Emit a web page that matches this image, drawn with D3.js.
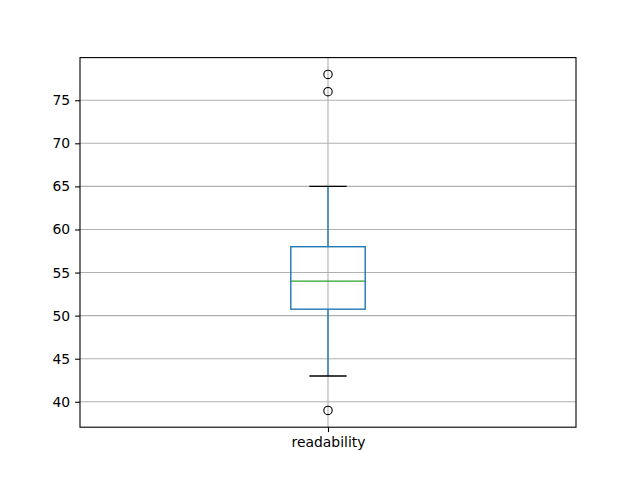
<!DOCTYPE html>
<html>
<head>
<meta charset="utf-8">
<script src="https://cdn.jsdelivr.net/npm/d3@7"></script>
<style>
  body { margin: 0; background: #fff; }
  text { font-family: "DejaVu Sans", sans-serif; }
</style>
</head>
<body>
<script>
// box statistics
var categories = ["readability"];
var q1Values = [50.75];
var medianValues = [54];
var q3Values = [58];
var whiskerLow = [43];
var whiskerHigh = [65];
var outlierValues = [[78, 76, 39]];
var yTicks = [40, 45, 50, 55, 60, 65, 70, 75];

var width = 640, height = 480;
var margin = {left: 80, right: 64, top: 57.6, bottom: 52.8};

var svg = d3.select("body").append("svg")
    .attr("width", width).attr("height", height);

var x = d3.scaleLinear().domain([0.5, 1.5]).range([margin.left, width - margin.right]);
var y = d3.scaleLinear().domain([37.05, 79.95]).range([height - margin.bottom, margin.top]);

var boxW = x(1.15) - x(1); // 0.15 data units
var capW = boxW / 2;

// grid lines
var grid = svg.append("g");
grid.selectAll("line.h").data(yTicks).enter().append("line")
    .attr("x1", x.range()[0]).attr("x2", x.range()[1])
    .attr("y1", d => y(d)).attr("y2", d => y(d))
    .attr("stroke", "#b0b0b0").attr("stroke-width", 1.1);
grid.selectAll("line.v").data(categories).enter().append("line")
    .attr("x1", (d, i) => x(i + 1)).attr("x2", (d, i) => x(i + 1))
    .attr("y1", y.range()[0]).attr("y2", y.range()[1])
    .attr("stroke", "#b0b0b0").attr("stroke-width", 1.1);

// boxes
var boxes = svg.append("g").selectAll("g").data(categories).enter().append("g");

boxes.append("line")
    .attr("x1", (d, i) => x(i + 1)).attr("x2", (d, i) => x(i + 1))
    .attr("y1", (d, i) => y(q1Values[i])).attr("y2", (d, i) => y(whiskerLow[i]))
    .attr("stroke", "#1f77b4").attr("stroke-width", 1.4);
boxes.append("line")
    .attr("x1", (d, i) => x(i + 1)).attr("x2", (d, i) => x(i + 1))
    .attr("y1", (d, i) => y(q3Values[i])).attr("y2", (d, i) => y(whiskerHigh[i]))
    .attr("stroke", "#1f77b4").attr("stroke-width", 1.4);

boxes.append("line")
    .attr("x1", (d, i) => x(i + 1) - capW / 2).attr("x2", (d, i) => x(i + 1) + capW / 2)
    .attr("y1", (d, i) => y(whiskerLow[i])).attr("y2", (d, i) => y(whiskerLow[i]))
    .attr("stroke", "#000").attr("stroke-width", 1.4);
boxes.append("line")
    .attr("x1", (d, i) => x(i + 1) - capW / 2).attr("x2", (d, i) => x(i + 1) + capW / 2)
    .attr("y1", (d, i) => y(whiskerHigh[i])).attr("y2", (d, i) => y(whiskerHigh[i]))
    .attr("stroke", "#000").attr("stroke-width", 1.4);

boxes.append("rect")
    .attr("x", (d, i) => x(i + 1) - boxW / 2)
    .attr("y", (d, i) => y(q3Values[i]))
    .attr("width", boxW)
    .attr("height", (d, i) => y(q1Values[i]) - y(q3Values[i]))
    .attr("fill", "none").attr("stroke", "#1f77b4").attr("stroke-width", 1.4);

boxes.append("line")
    .attr("x1", (d, i) => x(i + 1) - boxW / 2).attr("x2", (d, i) => x(i + 1) + boxW / 2)
    .attr("y1", (d, i) => y(medianValues[i])).attr("y2", (d, i) => y(medianValues[i]))
    .attr("stroke", "#2ca02c").attr("stroke-width", 1.4);

boxes.each(function(d, i) {
  d3.select(this).selectAll("circle").data(outlierValues[i]).enter().append("circle")
      .attr("cx", x(i + 1)).attr("cy", v => y(v)).attr("r", 4.2)
      .attr("fill", "none").attr("stroke", "#000").attr("stroke-width", 1.1);
});

// axes
var yAxis = d3.axisLeft(y).tickValues(yTicks).tickSize(4.9).tickPadding(4.9);
var xAxis = d3.axisBottom(x).tickValues([1]).tickFormat((d) => categories[d - 1]).tickSize(4.9).tickPadding(4.9);

var gy = svg.append("g").attr("transform", "translate(" + margin.left + ",0)").call(yAxis);
var gx = svg.append("g").attr("transform", "translate(0," + (height - margin.bottom) + ")").call(xAxis);
[gx, gy].forEach(function(g) {
  g.select(".domain").remove();
  g.selectAll(".tick line").attr("stroke", "#000").attr("stroke-width", 1.1);
  g.selectAll(".tick text").attr("fill", "#000").style("font-size", "13.9px")
      .style("font-family", "DejaVu Sans, sans-serif");
});

// frame
svg.append("rect")
    .attr("x", margin.left).attr("y", margin.top)
    .attr("width", width - margin.left - margin.right)
    .attr("height", height - margin.top - margin.bottom)
    .attr("fill", "none").attr("stroke", "#000").attr("stroke-width", 1.1);
</script>
</body>
</html>
